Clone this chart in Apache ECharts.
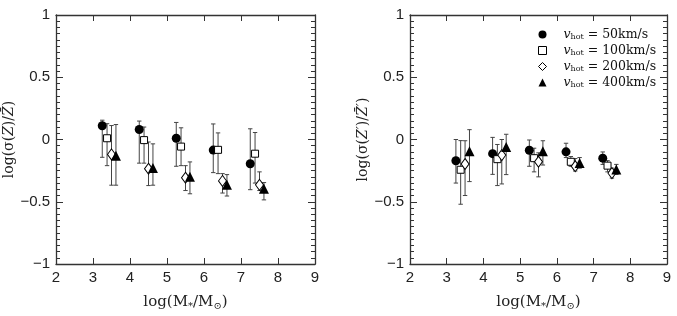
<!DOCTYPE html>
<html><head><meta charset="utf-8">
<script src="https://cdn.jsdelivr.net/npm/echarts@6/dist/echarts.min.js"></script>
<style>html,body{margin:0;padding:0;background:#fff}#c{width:677px;height:316px}</style>
</head><body><div id="c"></div>
<script>
// mass positions (log M*/Msun) for each v_hot group
const x50  = [3.25, 4.25, 5.25, 6.25, 7.25];
const x100 = [3.38, 4.38, 5.38, 6.38, 7.38];
const x200 = [3.50, 4.50, 5.50, 6.50, 7.50];
const x400 = [3.62, 4.62, 5.62, 6.62, 7.62];

// Left panel: log(sigma(Z)/Zbar)
const L50_y  = [0.11, 0.08, 0.01, -0.085, -0.195];
const L50_hi = [0.155, 0.148, 0.137, 0.125, 0.086];
const L50_lo = [-0.143, -0.19, -0.215, -0.266, -0.403];
const L100_y  = [0.01, -0.005, -0.057, -0.083, -0.114];
const L100_hi = [0.127, 0.10, 0.094, 0.053, 0.056];
const L100_lo = [-0.21, -0.19, -0.21, -0.274, -0.35];
const L200_y  = [-0.12, -0.235, -0.307, -0.333, -0.364];
const L200_hi = [0.112, -0.02, -0.21, -0.274, -0.26];
const L200_lo = [-0.367, -0.37, -0.41, -0.43, -0.41];
const L400_y  = [-0.13, -0.228, -0.30, -0.364, -0.395];
const L400_hi = [0.12, -0.035, -0.18, -0.282, -0.346];
const L400_lo = [-0.367, -0.367, -0.436, -0.454, -0.485];

// Right panel: log(sigma(Z')/Zbar')
const R50_y  = [-0.171, -0.114, -0.086, -0.099, -0.15];
const R50_hi = [0.0, 0.017, -0.004, -0.03, -0.10];
const R50_lo = [-0.35, -0.28, -0.215, -0.145, -0.2];
const R100_y  = [-0.243, -0.158, -0.15, -0.179, -0.21];
const R100_hi = [-0.009, -0.04, -0.07, -0.137, -0.17];
const R100_lo = [-0.52, -0.37, -0.26, -0.215, -0.26];
const R200_y  = [-0.197, -0.125, -0.179, -0.215, -0.27];
const R200_hi = [-0.01, 0.0, -0.107, -0.153, -0.23];
const R200_lo = [-0.45, -0.357, -0.3, -0.253, -0.31];
const R400_y  = [-0.094, -0.06, -0.094, -0.189, -0.24];
const R400_hi = [0.079, 0.042, -0.01, -0.145, -0.2];
const R400_lo = [-0.338, -0.282, -0.205, -0.23, -0.28];

const names = ['v50', 'v100', 'v200', 'v400'];
const legendText = {v50: '50km/s', v100: '100km/s', v200: '200km/s', v400: '400km/s'};
const xTicks = [2, 3, 4, 5, 6, 7, 8, 9];
const yTickLabels = {'1': '1', '0.5': '0.5', '0': '0', '-0.5': '\u22120.5', '-1': '\u22121'};

const AX = '#333';
const symbols = {
  v50:  {symbol: 'circle', size: 9, style: {color: '#000', borderColor: '#000', borderWidth: 0, opacity: 1}},
  v100: {symbol: 'rect', size: 7, style: {color: '#fff', borderColor: '#000', borderWidth: 1, opacity: 1}},
  v200: {symbol: 'diamond', size: [8, 11], style: {color: '#fff', borderColor: '#000', borderWidth: 1, opacity: 1}},
  v400: {symbol: 'triangle', size: 10, style: {color: '#000', borderColor: '#000', borderWidth: 0, opacity: 1}}
};

const grids = [
  {left: 56, top: 15, width: 259, height: 259},
  {left: 410, top: 15, width: 257, height: 259}
];

function xAx(gi, top) {
  return {
    type: 'value', gridIndex: gi, min: 2, max: 9, interval: 1,
    position: top ? 'top' : 'bottom',
    axisLine: {show: true, onZero: false, lineStyle: {color: AX, width: 1.3}},
    axisTick: {show: true, inside: true, length: 6, lineStyle: {color: AX}},
    minorTick: {show: false},
    axisLabel: top ? {show: false} : {show: true, margin: 6, color: '#222', fontSize: 15, fontFamily: 'Liberation Sans, Arial, sans-serif'},
    splitLine: {show: false},
    name: top ? '' : 'log(M{s|*}/M{s|\u2299})',
    nameLocation: 'middle', nameGap: 29,
    nameTextStyle: {color: '#222', fontSize: 15, fontFamily: 'DejaVu Serif, serif',
      rich: {s: {fontSize: 10, padding: [8, 0, 0, 0], fontFamily: 'DejaVu Serif, serif', color: '#222'}}}
  };
}
function yAx(gi, right, label) {
  return {
    type: 'value', gridIndex: gi, min: -1, max: 1, interval: 0.5,
    position: right ? 'right' : 'left',
    axisLine: {show: true, onZero: false, lineStyle: {color: AX, width: 1.3}},
    axisTick: {show: true, inside: true, length: 7, lineStyle: {color: AX}},
    minorTick: {show: true, splitNumber: 10, length: 4, lineStyle: {color: AX}},
    axisLabel: right ? {show: false} : {show: true, margin: 6, color: '#222', fontSize: 15,
      fontFamily: 'Liberation Sans, Arial, sans-serif',
      formatter: v => yTickLabels[String(v)] !== undefined ? yTickLabels[String(v)] : ''},
    splitLine: {show: false},
    name: right ? '' : label,
    nameLocation: 'middle', nameGap: 34, nameRotate: 90,
    nameTextStyle: {color: '#222', fontSize: 14, fontFamily: 'DejaVu Serif, serif',
      rich: {z: {fontSize: 14, fontStyle: 'italic', fontFamily: 'DejaVu Serif, serif', color: '#222'}}}
  };
}

function errRender(params, api) {
  const x = api.value(0), lo = api.value(1), hi = api.value(2);
  const p1 = api.coord([x, lo]), p2 = api.coord([x, hi]);
  const c = 2.2;
  const st = {stroke: '#444', lineWidth: 1};
  return {type: 'group', children: [
    {type: 'line', shape: {x1: p1[0], y1: p1[1], x2: p2[0], y2: p2[1]}, style: st},
    {type: 'line', shape: {x1: p1[0] - c, y1: p1[1], x2: p1[0] + c, y2: p1[1]}, style: st},
    {type: 'line', shape: {x1: p2[0] - c, y1: p2[1], x2: p2[0] + c, y2: p2[1]}, style: st}
  ]};
}

const panels = [
  {gi: 0, xi: 0, yi: 0, data: {
    v50: [x50, L50_y, L50_lo, L50_hi], v100: [x100, L100_y, L100_lo, L100_hi],
    v200: [x200, L200_y, L200_lo, L200_hi], v400: [x400, L400_y, L400_lo, L400_hi]}},
  {gi: 1, xi: 2, yi: 2, data: {
    v50: [x50, R50_y, R50_lo, R50_hi], v100: [x100, R100_y, R100_lo, R100_hi],
    v200: [x200, R200_y, R200_lo, R200_hi], v400: [x400, R400_y, R400_lo, R400_hi]}}
];

const series = [];
panels.forEach(p => {
  names.forEach(n => {
    const [xs, ys, los, his] = p.data[n];
    series.push({
      type: 'custom', name: n + '_err', xAxisIndex: p.xi, yAxisIndex: p.yi, z: 1,
      renderItem: errRender, silent: true,
      data: xs.map((x, i) => [x, los[i], his[i]])
    });
  });
  names.forEach(n => {
    const [xs, ys] = p.data[n];
    const s = symbols[n];
    series.push({
      type: 'scatter', name: n, xAxisIndex: p.xi, yAxisIndex: p.yi, z: 3,
      symbol: s.symbol, symbolSize: s.size, itemStyle: s.style,
      emphasis: {disabled: true},
      data: xs.map((x, i) => [x, ys[i]])
    });
  });
});

const legendIcon = {
  v50: {icon: 'circle', itemStyle: {borderWidth: 0}},
  v100: {icon: 'rect', itemStyle: {borderWidth: 1}},
  v200: {icon: 'diamond', itemStyle: {borderWidth: 1}},
  v400: {icon: 'triangle', itemStyle: {borderWidth: 0}}
};

const chart = echarts.init(document.getElementById('c'), null, {renderer: 'canvas'});
chart.setOption({
  animation: false,
  backgroundColor: '#fff',
  grid: grids,
  xAxis: [xAx(0, false), xAx(0, true), xAx(1, false), xAx(1, true)],
  yAxis: [yAx(0, false, 'log(\u03C3({z|Z})/{z|Z\u0304})'), yAx(0, true),
          yAx(1, false, 'log(\u03C3({z|Z\u2032})/{z|Z\u0304\u2032})'), yAx(1, true)],
  legend: {
    data: names.map(n => Object.assign({name: n}, legendIcon[n])),
    orient: 'vertical', left: 533, top: 23, itemGap: 3,
    itemWidth: 8, itemHeight: 8, selectedMode: false,
    formatter: n => '{v|v}{s|hot}{t| = ' + legendText[n] + '}',
    textStyle: {
      padding: [0, 0, 0, 12],
      rich: {
        v: {fontFamily: 'DejaVu Serif, serif', fontStyle: 'italic', fontSize: 12.5, color: '#111', lineHeight: 15},
        s: {fontFamily: 'DejaVu Serif, serif', fontSize: 8, color: '#111', padding: [5, 0, 0, 0], lineHeight: 15},
        t: {fontFamily: 'DejaVu Serif, serif', fontSize: 12.5, color: '#111', lineHeight: 15}
      }
    }
  },
  series: series
});
</script></body></html>
